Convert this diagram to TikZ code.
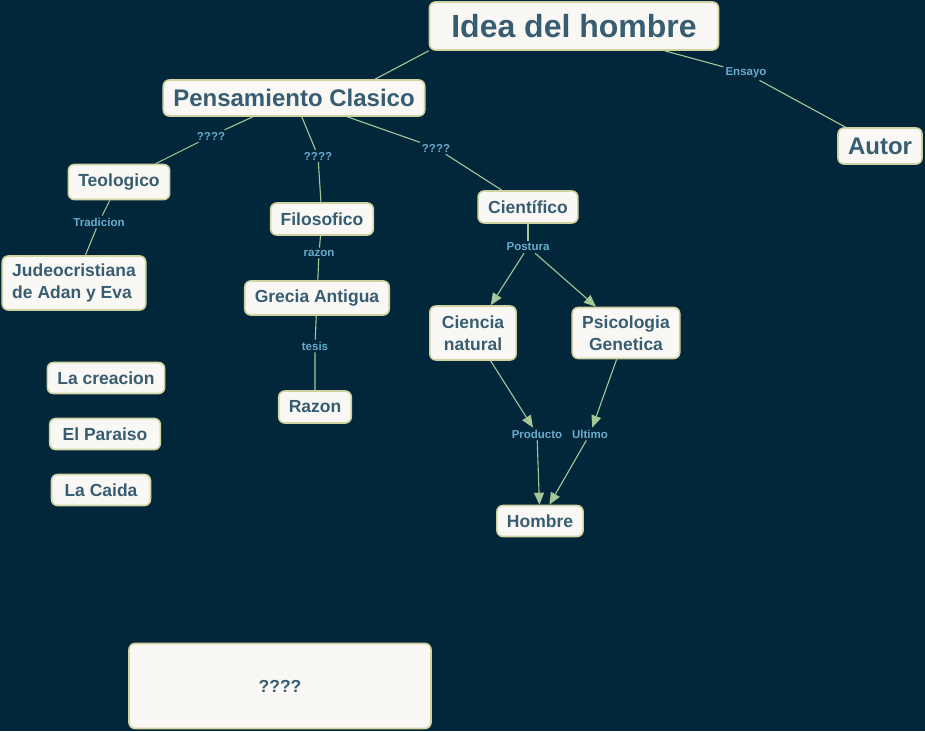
\documentclass[tikz,border=0pt]{standalone}
\usepackage{fontspec}
\setmainfont{Liberation Sans}
\usetikzlibrary{arrows.meta,positioning}
\definecolor{bgnavy}{RGB}{2,39,59}
\definecolor{boxfill}{RGB}{250,248,244}
\definecolor{boxborder}{RGB}{208,210,160}
\definecolor{boxtext}{RGB}{55,93,114}
\definecolor{linktext}{RGB}{105,172,205}
\definecolor{linkline}{RGB}{165,198,150}
\tikzset{
  concept/.style={draw=boxborder, line width=1.6pt, fill=boxfill, rounded corners=6pt,
    text=boxtext, font=\bfseries\fontsize{17.5}{22}\selectfont,
    inner xsep=10pt, inner ysep=0pt, minimum height=32pt, align=center},
  big concept/.style={concept, font=\bfseries\fontsize{24}{28}\selectfont, minimum height=36pt},
  link/.style={text=linktext, font=\bfseries\fontsize{11.5}{13}\selectfont, inner sep=2pt},
  con/.style={draw=linkline, line width=1.1pt},
  arr/.style={con, -{Triangle[length=12pt, width=10pt]}},
}

\begin{document}
\begin{tikzpicture}[x=1pt, y=-1pt]
  % Background
  \fill[bgnavy] (0,0) rectangle (925,731);
  \useasboundingbox (0,0) rectangle (925,731);

  % Concepts
  \node[concept, font=\bfseries\fontsize{32}{36}\selectfont, minimum width=289pt, minimum height=48pt] (idea) at (574,26) {Idea del hombre};
  \node[big concept] (pens) at (294,98) {Pensamiento Clasico};
  \node[big concept] (autor) at (880,146) {Autor};
  \node[concept, minimum height=35pt] (teol) at (119,182) {Teologico};
  \node[concept, minimum height=54pt, align=left] (judeo) at (74,283) {Judeocristiana\\de Adan y Eva};
  \node[concept] (filos) at (322,219) {Filosofico};
  \node[concept, minimum height=34pt] (grecia) at (317,298) {Grecia Antigua};
  \node[concept] (razon) at (315,407) {Razon};
  \node[concept] (cient) at (528,207) {Científico};
  \node[concept, minimum height=54pt, inner xsep=12pt] (cnat) at (473,333) {Ciencia\\natural};
  \node[concept, minimum height=51pt] (psico) at (626,333) {Psicologia\\Genetica};
  \node[concept, minimum height=31pt] (hombre) at (540,521) {Hombre};
  \node[concept, minimum height=31pt] (creacion) at (106,378) {La creacion};
  \node[concept, minimum height=31pt, inner xsep=13pt] (paraiso) at (105,434) {El Paraiso};
  \node[concept, minimum height=31pt, inner xsep=13pt] (caida) at (101,490) {La Caida};
  \node[concept, minimum width=302pt, minimum height=85pt] (nota) at (280,686) {????};

  % Link labels
  \node[link] (ensayo) at (746,73) {Ensayo};
  \node[link] (q1) at (211,136) {????};
  \node[link] (q2) at (318,156) {????};
  \node[link] (q3) at (436,148) {????};
  \node[link] (tradicion) at (99,222) {Tradicion};
  \node[link] (lrazon) at (319,253) {razon};
  \node[link] (tesis) at (315,346) {tesis};
  \node[link] (postura) at (528,247) {Postura};
  \node[link] (producto) at (537,434) {Producto};
  \node[link] (ultimo) at (590,434) {Ultimo};

  % Connectors
  \draw[con] (idea.south west) -- ([xshift=81pt]pens.north);
  \draw[con] (idea) -- (ensayo) -- (autor);
  \draw[con] (pens) -- (q1) -- (teol);
  \draw[con] (pens) -- (q2) -- (filos);
  \draw[con] (pens) -- (q3) -- (cient);
  \draw[con] (teol) -- (tradicion) -- (judeo);
  \draw[con] (filos) -- (lrazon) -- (grecia);
  \draw[con] (grecia) -- (tesis) -- (razon);
  \draw[con] (cient) -- (postura);
  \draw[arr] (postura) -- (cnat);
  \draw[arr] (postura) -- (psico);
  \draw[arr] (cnat) -- (producto);
  \draw[arr] (producto) -- (hombre);
  \draw[arr] (psico) -- (ultimo);
  \draw[arr] (ultimo) -- (hombre);
\end{tikzpicture}
\end{document}
